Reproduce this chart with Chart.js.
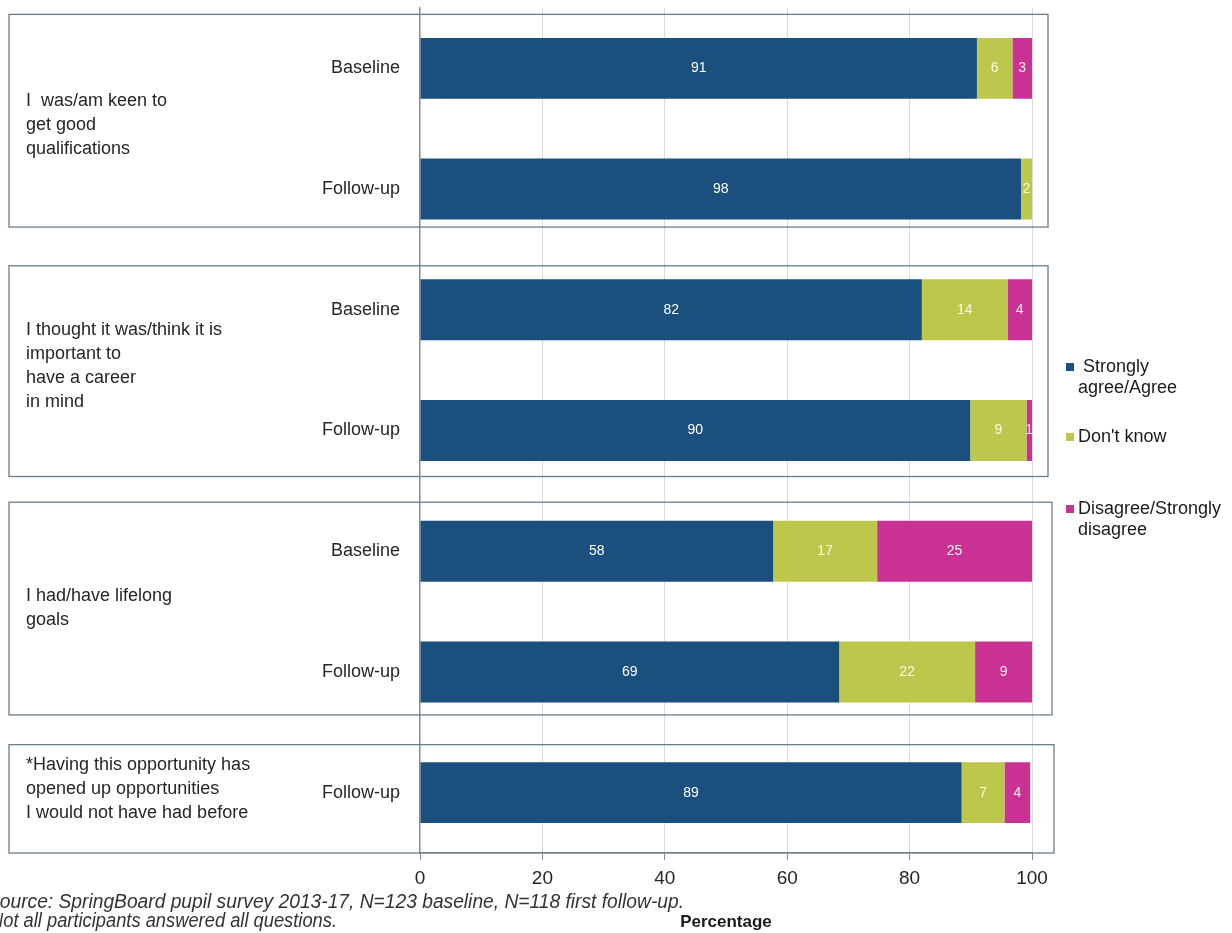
<!DOCTYPE html>
<html>
<head>
<meta charset="utf-8">
<title>SpringBoard pupil survey</title>
<script src="https://cdn.jsdelivr.net/npm/chart.js@4.4.0/dist/chart.umd.min.js"></script>
<style>
    body { margin: 0; background: #fff; }
    #wrap { width: 1232px; height: 933px; position: relative; }
</style>
</head>
<body>
<div id="wrap"><canvas id="myChart"></canvas></div>
<script>
// data
const categories = ['Baseline', 'Follow-up', 'Baseline', 'Follow-up', 'Baseline', 'Follow-up', 'Follow-up'];
const agree    = [91, 98.2, 82, 89.9, 57.7, 68.5, 88.5];
const dontKnow = [5.8, 1.8, 14, 9.2, 17, 22.2, 7.0];
const disagree = [3.2, 0, 4, 0.9, 25.3, 9.3, 4.2];
const seriesNames = ['Strongly agree/Agree', "Don't know", 'Disagree/Strongly disagree'];
const legendLines = [[' Strongly', 'agree/Agree'], ["Don't know"], ['Disagree/Strongly', 'disagree']];
const xTicks = [0, 20, 40, 60, 80, 100];

// question text for each group of bars (first / last category index)
const questions = [
    ['I  was/am keen to', 'get good', 'qualifications'],
    ['I thought it was/think it is', 'important to', 'have a career', 'in mind'],
    ['I had/have lifelong', 'goals'],
    ['*Having this opportunity has', 'opened up opportunities', 'I would not have had before']
];
const groups = [[0, 1], [2, 3], [4, 5], [6, 6]];

const sourceLines = [
    'Source: SpringBoard pupil survey 2013-17, N=123 baseline, N=118 first follow-up.',
    'Not all participants answered all questions.'
];

const colors = ['#1b4f7d', '#bdc74b', '#ca3194'];
const FONT = '"Liberation Sans", Arial, sans-serif';

// boxes around the groups, labels on the left, source notes, legend
const decorPlugin = {
    id: 'decor',
    afterDraw(chart) {
        const ctx = chart.ctx;
        const y = chart.scales.y;
        const area = chart.chartArea;
        const step = y.getPixelForValue(1) - y.getPixelForValue(0);
        // top pad, bottom pad, right extra (px)
        const boxPads = [[54, 38, 16], [44, 46, 16], [49, 43, 20], [48, step / 2, 22]];

        ctx.save();
        ctx.strokeStyle = '#6b7d8c';
        ctx.lineWidth = 1.3;
        groups.forEach(function (g, i) {
            const top = y.getPixelForValue(g[0]) - boxPads[i][0];
            const bottom = y.getPixelForValue(g[1]) + boxPads[i][1];
            ctx.strokeRect(9, top, area.right + boxPads[i][2] - 9, bottom - top);
        });

        ctx.fillStyle = '#262626';
        ctx.font = '18px ' + FONT;
        ctx.textAlign = 'left';
        ctx.textBaseline = 'middle';
        groups.forEach(function (g, i) {
            const mid = (y.getPixelForValue(g[0]) + y.getPixelForValue(g[1])) / 2 - 4;
            const lines = questions[i];
            const lh = 24;
            lines.forEach(function (t, k) {
                ctx.fillText(t, 26, mid + (k - (lines.length - 1) / 2) * lh);
            });
        });

        // source note, cut at the left edge like the original
        ctx.fillStyle = '#333';
        ctx.font = 'italic 19.5px ' + FONT;
        ctx.fillText(sourceLines[0], -13, 903, 697);
        ctx.fillText(sourceLines[1], -10, 922, 347);

        // legend
        const legendY = [367, 437, 509];
        ctx.font = '18px ' + FONT;
        legendLines.forEach(function (lines, i) {
            ctx.fillStyle = colors[i];
            ctx.fillRect(1066, legendY[i] - 4, 8, 8);
            ctx.fillStyle = '#1a1a1a';
            lines.forEach(function (t, k) {
                ctx.fillText(t, 1078, legendY[i] + k * 21);
            });
        });
        ctx.restore();
    }
};

// numbers inside the bars
const valuePlugin = {
    id: 'values',
    afterDatasetsDraw(chart) {
        const ctx = chart.ctx;
        ctx.save();
        ctx.font = '14px ' + FONT;
        ctx.textAlign = 'center';
        ctx.textBaseline = 'middle';
        chart.data.datasets.forEach(function (ds, i) {
            chart.getDatasetMeta(i).data.forEach(function (bar, j) {
                const v = ds.data[j];
                if (!v) return;
                ctx.fillStyle = i === 0 ? '#ffffff' : 'rgba(255,255,240,0.92)';
                ctx.fillText(Math.round(v), (bar.x + bar.base) / 2, bar.y);
            });
        });
        ctx.restore();
    }
};

const data = {
    labels: categories,
    datasets: [
        { label: seriesNames[0], data: agree, backgroundColor: colors[0] },
        { label: seriesNames[1], data: dontKnow, backgroundColor: colors[1] },
        { label: seriesNames[2], data: disagree, backgroundColor: colors[2] }
    ]
};

const config = {
    type: 'bar',
    data: data,
    options: {
        indexAxis: 'y',
        responsive: true,
        maintainAspectRatio: false,
        animation: false,
        layout: { padding: { top: 8, right: 200, bottom: 0, left: 0 } },
        datasets: {
            bar: { barPercentage: 0.505, categoryPercentage: 1, borderWidth: 0 }
        },
        plugins: {
            legend: { display: false },
            tooltip: { enabled: false }
        },
        scales: {
            x: {
                stacked: true,
                min: 0,
                max: 100,
                afterBuildTicks: function (scale) {
                    scale.ticks = xTicks.map(function (v) { return { value: v }; });
                },
                afterFit: function (scale) {
                    scale.height = 80;
                    scale.paddingLeft = 0;
                    scale.paddingRight = 0;
                },
                grid: { color: '#d9d9d9', tickLength: 7, tickColor: '#8a8a8a' },
                border: { color: '#8a8a8a', width: 1.3 },
                ticks: { color: '#262626', padding: 7, font: { family: FONT, size: 19 } },
                title: {
                    display: true,
                    text: 'Percentage',
                    color: '#1a1a1a',
                    padding: { top: 0, bottom: 0 },
                    font: { family: FONT, size: 17, weight: 'bold' }
                }
            },
            y: {
                stacked: true,
                afterFit: function (scale) {
                    scale.width = 420;
                    scale.paddingTop = 0;
                    scale.paddingBottom = 0;
                },
                grid: { display: false, drawTicks: false },
                border: { display: true, color: '#8a8a8a', width: 1.3 },
                ticks: { color: '#262626', padding: 20, font: { family: FONT, size: 18 } }
            }
        }
    },
    plugins: [valuePlugin, decorPlugin]
};

const myChart = new Chart(document.getElementById('myChart'), config);
</script>
</body>
</html>
